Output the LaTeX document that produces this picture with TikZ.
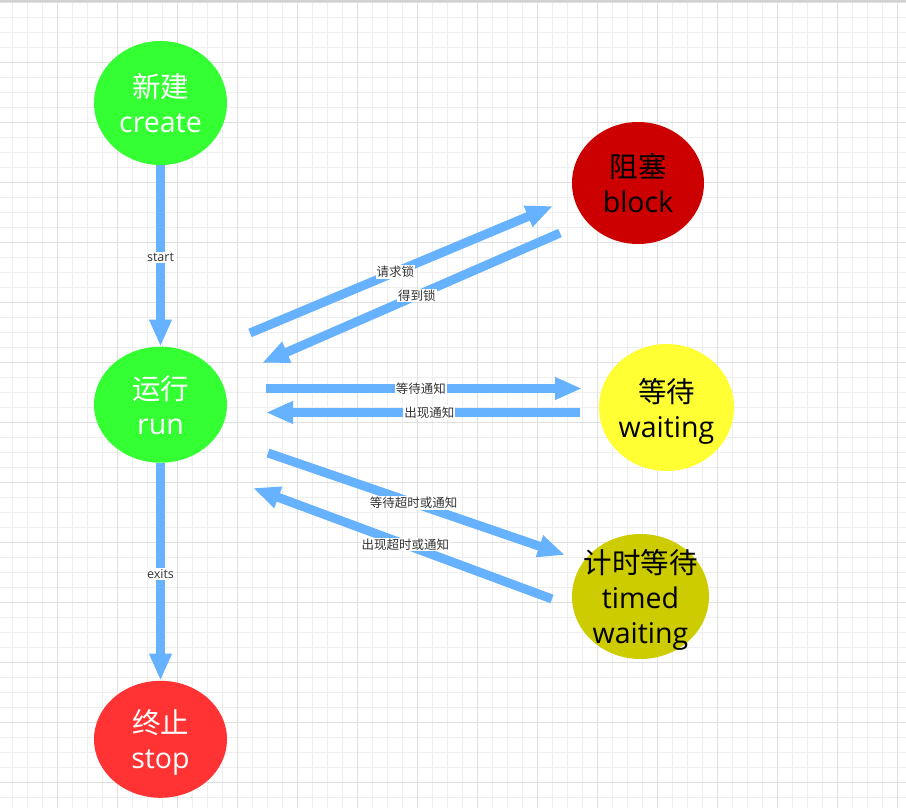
\documentclass[tikz,border=0pt]{standalone}
\usepackage{fontspec}
\setmainfont{Open Sans}
\newfontfamily\cjk{Noto Sans CJK SC}
\usetikzlibrary{arrows.meta,shapes.geometric}
\definecolor{arrowblue}{HTML}{66B2FF}
\definecolor{livegreen}{HTML}{33FF33}
\definecolor{stopred}{HTML}{FF3333}
\definecolor{blockred}{HTML}{CC0000}
\definecolor{waityellow}{HTML}{FFFF33}
\definecolor{timedolive}{HTML}{CCCC00}
\definecolor{gridminor}{HTML}{EEEEEE}
\definecolor{gridmajor}{HTML}{E0E0E0}
\definecolor{labelgray}{HTML}{333333}
\begin{document}
\begin{tikzpicture}[x=1pt,y=-1pt,
  state/.style={ellipse, inner sep=0pt},
  statetext/.style={inner sep=0pt, align=center, yshift=-3.5pt,
    font=\fontsize{28.5}{35}\selectfont},
  arr/.style={draw=arrowblue, line width=9pt,
    -{Triangle[width=21pt,length=27pt]}},
  lbl/.style={fill=white, text=labelgray, inner sep=1pt,
    font=\fontsize{12.5}{14}\selectfont}]
\useasboundingbox (0,0) rectangle (906,808);
\fill[white] (0,0) rectangle (906,808);
% grid
\foreach \i in {0,...,60} {
  \draw[gridminor, line width=1pt] ({12.7+15*\i},0) -- ({12.7+15*\i},808);
}
\foreach \j in {0,...,54} {
  \draw[gridminor, line width=1pt] (0,{2.3+15*\j}) -- (906,{2.3+15*\j});
}
\foreach \i in {0,...,14} {
  \draw[gridmajor, line width=1pt] ({57.7+60*\i},0) -- ({57.7+60*\i},808);
}
\foreach \j in {0,...,13} {
  \draw[gridmajor, line width=1pt] (0,{2.3+60*\j}) -- (906,{2.3+60*\j});
}
\draw[color=black!18, line width=2.5pt] (0,0.8) -- (906,0.8);
% states
\node[state, fill=livegreen, minimum width=133pt, minimum height=124pt]
  (create) at (160.5,103) {};
\node[statetext, text=white] (createtext) at (create.center)
  {{\cjk 新建}\\create\vphantom{g}};
\node[state, fill=livegreen, minimum width=133pt, minimum height=116pt]
  (run) at (160.5,404.7) {};
\node[statetext, text=white] (runtext) at (run.center)
  {{\cjk 运行}\\run\vphantom{g}};
\node[state, fill=stopred, minimum width=133pt, minimum height=117pt]
  (stop) at (160.5,739.3) {};
\node[statetext, text=white] (stoptext) at (stop.center)
  {{\cjk 终止}\\stop\vphantom{g}};
\node[state, fill=blockred, minimum width=132pt, minimum height=122pt]
  (block) at (638,183) {};
\node[statetext, text=black] (blocktext) at (block.center)
  {{\cjk 阻塞}\\block\vphantom{g}};
\node[state, fill=waityellow, minimum width=135pt, minimum height=127pt]
  (waiting) at (666.5,407.5) {};
\node[statetext, text=black] (waitingtext) at (waiting.center)
  {{\cjk 等待}\\waiting};
\node[state, fill=timedolive, minimum width=137pt, minimum height=125pt]
  (timed) at (640.5,596.5) {};
\node[statetext, text=black] (timedtext) at (timed.center)
  {{\cjk 计时等待}\\timed\\waiting};
% free ends of the parallel connectors
\coordinate (rb1) at (250,333);
\coordinate (br1) at (553,206);
\coordinate (br2) at (560,233);
\coordinate (rb2) at (262,363);
\coordinate (rw1) at (266,388.5);
\coordinate (wr1) at (582,388.5);
\coordinate (wr2) at (580,412.5);
\coordinate (rw2) at (266,412.5);
\coordinate (rt1) at (268,453);
\coordinate (tr1) at (565,555);
\coordinate (tr2) at (552,599);
\coordinate (rt2) at (253,488);
% connectors
\draw[arr] (create) -- node[lbl, pos=0.51] (lstart) {start} (run);
\draw[arr] (run) -- node[lbl, pos=0.51] (lexits) {exits} (stop);
\draw[arr] (rb1) -- node[lbl, pos=0.48] (lreq) {\cjk 请求锁} (br1);
\draw[arr] (br2) -- node[lbl, pos=0.48] (lget) {\cjk 得到锁} (rb2);
\draw[arr] (rw1) -- node[lbl, pos=0.49] (lwait) {\cjk 等待通知} (wr1);
\draw[arr] (wr2) -- node[lbl, pos=0.48] (lnote) {\cjk 出现通知} (rw2);
\draw[arr] (rt1) -- node[lbl, pos=0.49] (ltw) {\cjk 等待超时或通知} (tr1);
\draw[arr] (tr2) -- node[lbl, pos=0.49] (ltn) {\cjk 出现超时或通知} (rt2);
\end{tikzpicture}
\end{document}
